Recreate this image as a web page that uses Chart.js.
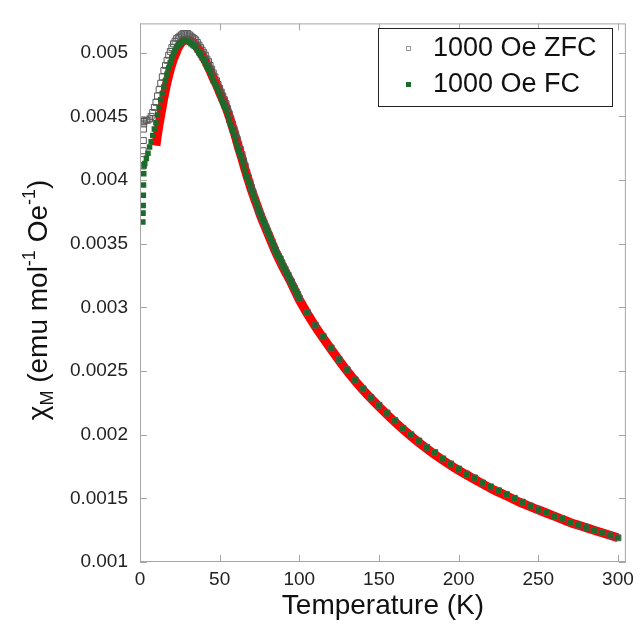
<!DOCTYPE html>
<html>
<head>
<meta charset="utf-8">
<script src="https://cdn.jsdelivr.net/npm/chart.js@4.4.0/dist/chart.umd.min.js"></script>
<style>
  html, body { margin: 0; padding: 0; background: #fff; }
  #wrap { width: 640px; height: 630px; }
</style>
</head>
<body>
<div id="wrap"><canvas id="chi" width="640" height="630"></canvas></div>
<script>
// Data: chi_M (emu/mol/Oe) vs T (K)

// lowest-temperature points, FC and ZFC
const fcLowT = [1.8, 1.9, 2.0, 2.1, 2.2, 2.35, 2.5];
const fcLowChi = [0.00367, 0.00374, 0.0038, 0.00388, 0.00396, 0.00405, 0.00411];
const zfcLowT = [1.8, 1.9, 2.0, 2.1, 2.2, 2.35, 2.5];
const zfcLowChi = [0.00411, 0.00416, 0.00423, 0.00431, 0.0044, 0.00444, 0.00446];

// dense sweep, 3 K to 100 K
const denseT = [
  3, 4, 5, 6, 7, 8, 9, 10, 11, 12,
  13, 14, 15, 16, 17, 18, 19, 20, 21, 22,
  23, 24, 25, 26, 27, 28, 29, 30, 31, 32,
  33, 34, 35, 36, 37, 38, 39, 40, 41, 42,
  43, 44, 45, 46, 47, 48, 49, 50, 51, 52,
  53, 54, 55, 56, 57, 58, 59, 60, 61, 62,
  63, 64, 65, 66, 67, 68, 69, 70, 71, 72,
  73, 74, 75, 76, 77, 78, 79, 80, 81, 82,
  83, 84, 85, 86, 87, 88, 89, 90, 91, 92,
  93, 94, 95, 96, 97, 98, 99, 100
];
const fcDense = [
  0.00413, 0.00417, 0.00421, 0.00426, 0.0043, 0.00435, 0.0044, 0.00445, 0.00451, 0.00457,
  0.00463, 0.00468, 0.00473, 0.00478, 0.00483, 0.00488, 0.00492, 0.00496, 0.00499, 0.00502,
  0.00504, 0.00506, 0.00507, 0.00508, 0.00509, 0.00509, 0.00509, 0.00509, 0.00508, 0.00507,
  0.00506, 0.00505, 0.00504, 0.00502, 0.005, 0.00498, 0.00496, 0.00494, 0.00492, 0.00489,
  0.00487, 0.00484, 0.00481, 0.00478, 0.00476, 0.00473, 0.0047, 0.00467, 0.00464, 0.00461,
  0.00458, 0.00455, 0.00451, 0.00447, 0.00443, 0.00439, 0.00435, 0.00431, 0.00427, 0.00423,
  0.00419, 0.00415, 0.00411, 0.00407, 0.00403, 0.00399, 0.00396, 0.00392, 0.00389, 0.00385,
  0.00382, 0.00378, 0.00375, 0.00372, 0.00369, 0.00366, 0.00363, 0.0036, 0.00357, 0.00354,
  0.00351, 0.00348, 0.00345, 0.00342, 0.0034, 0.00338, 0.00335, 0.00332, 0.0033, 0.00327,
  0.00325, 0.00322, 0.0032, 0.00317, 0.00315, 0.00312, 0.0031, 0.00307
];
const zfcDense = [
  0.00447, 0.00447, 0.00447, 0.00448, 0.0045, 0.00453, 0.00457, 0.00461, 0.00466, 0.00471,
  0.00476, 0.00481, 0.00486, 0.0049, 0.00494, 0.00498, 0.00501, 0.00504, 0.00507, 0.00509,
  0.00511, 0.00512, 0.00513, 0.00514, 0.00515, 0.00515, 0.00515, 0.00515, 0.00514, 0.00513,
  0.00512, 0.00511, 0.0051, 0.00508, 0.00506, 0.00504, 0.00502, 0.005, 0.00498, 0.00495,
  0.00493, 0.0049, 0.00487, 0.00484, 0.00481, 0.00478, 0.00475, 0.00472, 0.00469, 0.00466,
  0.00463, 0.0046, 0.00456, 0.00452, 0.00448, 0.00444, 0.0044, 0.00436, 0.00432, 0.00428,
  0.00424, 0.0042, 0.00415, 0.00411, 0.00406, 0.00402, 0.00398, 0.00394, 0.0039, 0.00386,
  0.00382, 0.00378, 0.00375, 0.00372, 0.00369, 0.00366, 0.00363, 0.0036, 0.00357, 0.00354,
  0.00351, 0.00348, 0.00345, 0.00342, 0.0034, 0.00338, 0.00335, 0.00332, 0.0033, 0.00327,
  0.00325, 0.00322, 0.0032, 0.00317, 0.00315, 0.00312, 0.0031, 0.00307
];

// 5 K steps above 100 K (ZFC and FC sit on top of each other here)
const highT = [
  105, 110, 115, 120, 125, 130, 135, 140, 145, 150,
  155, 160, 165, 170, 175, 180, 185, 190, 195, 200,
  205, 210, 215, 220, 225, 230, 235, 240, 245, 250,
  255, 260, 265, 270, 275, 280, 285, 290, 295, 300
];
const fcHigh = [
  0.00296, 0.00286, 0.00277, 0.00268, 0.00259, 0.00251, 0.00243, 0.00236, 0.00229, 0.00223,
  0.00217, 0.00211, 0.00205, 0.002, 0.00195, 0.0019, 0.00186, 0.00181, 0.00177, 0.00173,
  0.00169, 0.00166, 0.00162, 0.00159, 0.00156, 0.00153, 0.0015, 0.00147, 0.00144, 0.00141,
  0.00139, 0.00136, 0.00134, 0.00131, 0.00129, 0.00127, 0.00125, 0.00123, 0.00121, 0.00119
];
const zfcHigh = fcHigh;

// fitted curve (red)
const fitT = [
  10, 11, 12, 13, 14, 15, 16, 17, 18, 19, 20, 21, 22, 23, 24, 25, 26, 27, 28, 29,
  30, 31, 32, 33, 34, 35, 36, 38, 40, 42, 44, 46, 48, 50, 52, 54, 56, 58, 60, 62,
  64, 66, 68, 70, 72, 74, 76, 78, 80, 85, 90, 95, 100, 110, 120, 130, 140, 150, 160, 170,
  180, 190, 200, 210, 220, 230, 240, 250, 260, 270, 280, 290, 300
];
const fitChi = [
  0.00427, 0.00436, 0.00444, 0.00451, 0.00458, 0.00465, 0.00471, 0.00477, 0.00482, 0.00487,
  0.00491, 0.00495, 0.00498, 0.00501, 0.00504, 0.00506, 0.00508, 0.00509, 0.0051, 0.0051,
  0.0051, 0.0051, 0.00509, 0.00508, 0.00507, 0.00506, 0.00504, 0.005, 0.00496, 0.00491,
  0.00486, 0.0048, 0.00475, 0.00469, 0.00463, 0.00457, 0.0045, 0.00442, 0.00434, 0.00425,
  0.00417, 0.00408, 0.004, 0.00392, 0.00385, 0.00378, 0.00371, 0.00365, 0.00359, 0.00344,
  0.00331, 0.00319, 0.00306, 0.00285, 0.00267, 0.0025, 0.00235, 0.00222, 0.0021, 0.00199,
  0.00189, 0.0018, 0.00172, 0.00165, 0.00158, 0.00152, 0.00146, 0.00141, 0.00136, 0.00131,
  0.00127, 0.00123, 0.00119
];

const xTicks = [0, 50, 100, 150, 200, 250, 300];
const yTicks = [0.001, 0.0015, 0.002, 0.0025, 0.003, 0.0035, 0.004, 0.0045, 0.005];

const FONT = "'Liberation Sans', Arial, sans-serif";
const GREEN = "#1c6b2a";

const pts = (ts, vs) => ts.map((t, i) => ({ x: t, y: vs[i] }));

const fcPoints = pts(fcLowT, fcLowChi).concat(pts(denseT, fcDense), pts(highT, fcHigh));
const zfcPoints = pts(zfcLowT, zfcLowChi).concat(pts(denseT, zfcDense), pts(highT, zfcHigh));
const fitPoints = pts(fitT, fitChi);

// frame, inward ticks, y title with sub/superscripts, legend
const decor = {
  id: "decor",
  afterDraw(chart) {
    const { ctx, chartArea: a, scales: { x, y } } = chart;
    ctx.save();

    ctx.strokeStyle = "#a6a6a6";
    ctx.lineWidth = 1;
    ctx.strokeRect(a.left + 0.5, a.top + 0.5, a.right - a.left - 1, a.bottom - a.top - 1);
    ctx.beginPath();
    xTicks.forEach((t) => {
      const px = Math.round(x.getPixelForValue(t)) + 0.5;
      ctx.moveTo(px, a.bottom); ctx.lineTo(px, a.bottom - 7);
      ctx.moveTo(px, a.top); ctx.lineTo(px, a.top + 7);
    });
    yTicks.forEach((v) => {
      const py = Math.round(y.getPixelForValue(v)) + 0.5;
      ctx.moveTo(a.left, py); ctx.lineTo(a.left + 7, py);
      ctx.moveTo(a.right, py); ctx.lineTo(a.right - 7, py);
    });
    ctx.stroke();

    // x title
    ctx.fillStyle = "#111";
    ctx.font = "28px " + FONT;
    ctx.textAlign = "center";
    ctx.textBaseline = "middle";
    ctx.fillText("Temperature (K)", (a.left + a.right) / 2, 606);

    // y title, drawn rotated piece by piece
    const parts = [
      { t: "\u03C7", s: 28, dy: 0 },
      { t: "M", s: 18, dy: 6 },
      { t: " (emu mol", s: 28, dy: 0 },
      { t: "-1", s: 18, dy: -12 },
      { t: " Oe", s: 28, dy: 0 },
      { t: "-1", s: 18, dy: -12 },
      { t: ")", s: 28, dy: 0 },
    ];
    let total = 0;
    parts.forEach((p) => {
      ctx.font = p.s + "px " + FONT;
      p.w = ctx.measureText(p.t).width;
      total += p.w;
    });
    ctx.translate(47, 300);
    ctx.rotate(-Math.PI / 2);
    ctx.textAlign = "left";
    ctx.textBaseline = "alphabetic";
    let cx = -total / 2;
    parts.forEach((p) => {
      ctx.font = p.s + "px " + FONT;
      ctx.fillText(p.t, cx, p.dy);
      cx += p.w;
    });
    ctx.setTransform(1, 0, 0, 1, 0, 0);

    // legend
    ctx.fillStyle = "#fff";
    ctx.fillRect(378, 28, 234, 78);
    ctx.strokeStyle = "#222";
    ctx.strokeRect(378.5, 28.5, 234, 78);
    ctx.strokeStyle = "#999";
    ctx.strokeRect(406.5, 46.5, 4, 4);
    ctx.fillStyle = GREEN;
    ctx.fillRect(406, 82, 5, 5);
    ctx.fillStyle = "#111";
    ctx.font = "27px " + FONT;
    ctx.textBaseline = "middle";
    ctx.fillText("1000 Oe ZFC", 433, 49);
    ctx.fillText("1000 Oe FC", 433, 85);

    ctx.restore();
  },
};

new Chart(document.getElementById("chi"), {
  type: "scatter",
  data: {
    datasets: [
      {
        label: "1000 Oe FC",
        data: fcPoints,
        pointStyle: "rect",
        pointRadius: 3.9,
        backgroundColor: GREEN,
        borderColor: GREEN,
        borderWidth: 0,
        order: 1,
      },
      {
        label: "1000 Oe ZFC",
        data: zfcPoints,
        pointStyle: "rect",
        pointRadius: 4.2,
        backgroundColor: "rgba(255,255,255,0)",
        borderColor: "#5a5a5a",
        borderWidth: 1,
        order: 2,
      },
      {
        label: "fit",
        data: fitPoints,
        showLine: true,
        pointRadius: 0,
        borderColor: "#ff0000",
        borderWidth: 9,
        borderCapStyle: "butt",
        tension: 0.3,
        order: 3,
      },
    ],
  },
  options: {
    responsive: false,
    animation: false,
    devicePixelRatio: 1,
    layout: { padding: { left: 0, right: 13, top: 20, bottom: 0 } },
    plugins: { legend: { display: false }, tooltip: { enabled: false } },
    scales: {
      x: {
        type: "linear",
        min: 0,
        max: 305,
        grid: { display: false, drawTicks: false },
        border: { display: false },
        afterBuildTicks: (s) => { s.ticks = xTicks.map((v) => ({ value: v })); },
        afterFit: (s) => { s.height = 68; },
        ticks: {
          color: "#222",
          padding: 6,
          maxRotation: 0,
          font: { family: FONT, size: 19 },
        },
      },
      y: {
        type: "linear",
        min: 0.001,
        max: 0.00523,
        grid: { display: false, drawTicks: false },
        border: { display: false },
        afterBuildTicks: (s) => { s.ticks = yTicks.map((v) => ({ value: v })); },
        afterFit: (s) => { s.width = 140; },
        ticks: {
          color: "#222",
          padding: 12,
          font: { family: FONT, size: 19 },
          callback: (v) => String(v),
        },
      },
    },
  },
  plugins: [decor],
});
</script>
</body>
</html>
